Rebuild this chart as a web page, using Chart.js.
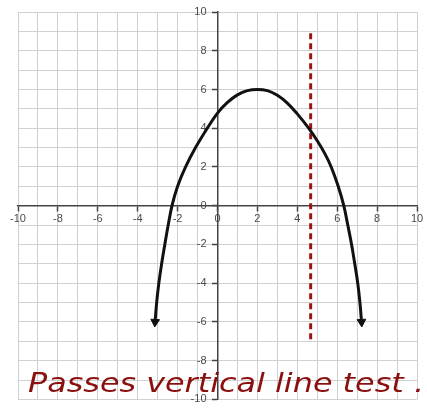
<!DOCTYPE html>
<html>
<head>
<meta charset="utf-8">
<script src="https://cdn.jsdelivr.net/npm/chart.js@4"></script>
<style>
  html, body { margin: 0; padding: 0; background: #fff; }
  #wrap { position: relative; width: 427px; height: 408px; }
</style>
</head>
<body>
<div id="wrap"><canvas id="chart" width="427" height="408"></canvas></div>
<script>
// parabola-like curve, points
const curveX = [-3.13, -3.05, -2.94, -2.8, -2.64, -2.47, -2.28, -2.0, -1.6, -1.1, -0.5, 0, 0.5, 1, 1.5, 2, 2.5, 3, 3.5, 4, 4.57, 5, 5.4, 5.7, 6.05, 6.33, 6.53, 6.72, 6.88, 7.03, 7.14, 7.22];
const curveY = [-6.0, -5.0, -4.0, -3.0, -2.0, -1.0, 0, 1.0, 2.0, 3.0, 4.02, 4.78, 5.33, 5.72, 5.94, 6.0, 5.94, 5.7, 5.3, 4.74, 4.0, 3.35, 2.65, 2.0, 1.0, 0, -1.0, -2.0, -3.0, -4.0, -5.0, -6.0];

// the vertical test line
const testX = [4.67, 4.67];
const testY = [8.9, -6.9];

// labelled ticks on both axes
const axisLabels = [-10, -8, -6, -4, -2, 0, 2, 4, 6, 8, 10];

const caption = "Passes vertical line test .";

const curvePts = curveX.map((x, i) => ({ x: x, y: curveY[i] }));
const testPts = testX.map((x, i) => ({ x: x, y: testY[i] }));
const last = curvePts.length - 1;

const tickFont = { family: "'Liberation Sans', Arial, sans-serif", size: 11 };

function scaleOpts(pos, labelFmt) {
  return {
    type: "linear",
    position: pos,
    min: -10,
    max: 10,
    grid: {
      color: "#d0d0d0",
      lineWidth: 1,
      tickLength: 5,
      tickWidth: 1.5,
      tickColor: ctx => axisLabels.includes(ctx.tick.value) ? "#444" : "rgba(0,0,0,0)"
    },
    border: { color: "#444", width: 1.5 },
    ticks: {
      stepSize: 1,
      autoSkip: false,
      maxRotation: 0,
      padding: 2,
      color: "#4a4a4a",
      font: tickFont,
      callback: v => axisLabels.includes(v) ? labelFmt(v) : ""
    }
  };
}

// caption in dark red across the bottom
const captionPlugin = {
  id: "caption",
  afterDraw(chart) {
    const ctx = chart.ctx;
    ctx.save();
    ctx.font = "oblique 27px 'DejaVu Sans', sans-serif";
    ctx.fillStyle = "#8a0f0f";
    ctx.textBaseline = "alphabetic";
    const w = ctx.measureText(caption).width;
    ctx.translate(28, 392);
    ctx.scale(396 / w, 1);
    ctx.fillText(caption, 0, 0);
    ctx.restore();
  }
};

new Chart(document.getElementById("chart"), {
  type: "line",
  data: {
    datasets: [
      {
        data: curvePts,
        borderColor: "#111",
        backgroundColor: "#111",
        borderWidth: 3,
        tension: 0.4,
        pointRadius: curvePts.map((p, i) => (i === 0 || i === last) ? 5 : 0),
        pointStyle: "triangle",
        pointRotation: curvePts.map((p, i) => i === 0 ? 183 : (i === last ? 177 : 0)),
        pointBorderWidth: 1
      },
      {
        data: testPts,
        borderColor: "#9b1414",
        borderWidth: 3,
        borderDash: [6, 4],
        pointRadius: 0
      }
    ]
  },
  options: {
    responsive: false,
    animation: false,
    layout: { padding: { left: 18, right: 10, top: 12, bottom: 8 } },
    plugins: { legend: { display: false }, tooltip: { enabled: false } },
    scales: {
      x: scaleOpts({ y: 0 }, v => String(v)),
      // y labels sit right-aligned on the axis, so pad them away from it
      y: scaleOpts({ x: 0 }, v => String(v) + "\u2003")
    }
  },
  plugins: [captionPlugin]
});
</script>
</body>
</html>
